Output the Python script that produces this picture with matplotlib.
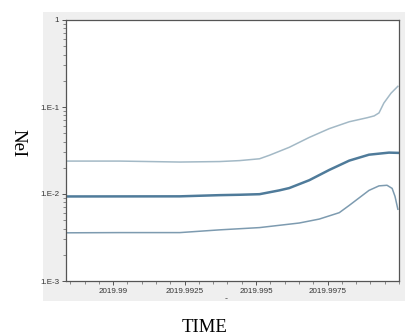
import matplotlib
matplotlib.use("Agg")
from matplotlib import pyplot as plt
from matplotlib.patches import Rectangle
from matplotlib.ticker import FixedLocator, FixedFormatter, LogLocator, MultipleLocator
import numpy as np

# effective population size through time (log scale), median with upper/lower bounds
upper_t = [2019.98839, 2019.99023, 2019.99233, 2019.99372, 2019.99442, 2019.99512,
           2019.99547, 2019.99616, 2019.99686, 2019.99756, 2019.99826, 2019.99888,
           2019.99913, 2019.99930, 2019.99947, 2019.99972, 2019.99996]
upper = [0.0239, 0.0239, 0.0233, 0.0236, 0.0242, 0.0254, 0.0279, 0.0344, 0.0447,
         0.0564, 0.0677, 0.0752, 0.079, 0.0855, 0.111, 0.144, 0.173]

median_t = [2019.98839, 2019.99233, 2019.99372, 2019.99442, 2019.99512, 2019.99581,
            2019.99616, 2019.99686, 2019.99756, 2019.99826, 2019.99895, 2019.99965,
            2019.99996]
median = [0.00937, 0.0094, 0.0097, 0.0098, 0.00995, 0.0110, 0.0117, 0.0144, 0.0189,
          0.0242, 0.0283, 0.0299, 0.0297]

lower_t = [2019.98839, 2019.99023, 2019.99233, 2019.99372, 2019.99512, 2019.99651,
           2019.99721, 2019.99791, 2019.99826, 2019.99895, 2019.99930, 2019.99958,
           2019.99976, 2019.99986, 2019.99996]
lower = [0.00358, 0.0036, 0.0036, 0.00387, 0.00411, 0.00464, 0.00515, 0.0061,
         0.0074, 0.0110, 0.0124, 0.0126, 0.0116, 0.0094, 0.00668]

xticks = [2019.99, 2019.9925, 2019.995, 2019.9975]
xtick_labels = ["2019.99", "2019.9925", "2019.995", "2019.9975"]
yticks = [1e-3, 1e-2, 1e-1, 1]
ytick_labels = ["1.E-3", "1.E-2", "1.E-1", "1"]

fig = plt.figure(figsize=(4.06, 3.36), dpi=100)
fig.patch.set_facecolor("white")

# grey panel behind the plot area
fig.patches.append(Rectangle((43 / 406, 1 - 301 / 336), 363 / 406, 289 / 336,
                             transform=fig.transFigure, facecolor="#efefef",
                             edgecolor="none", zorder=0))

ax = fig.add_axes([66 / 406, 1 - 281 / 336, 333 / 406, 261 / 336])
ax.set_zorder(2)
ax.set_facecolor("white")

ax.plot(upper_t, upper, color="#a3b9c6", lw=1.1)
ax.plot(median_t, median, color="#4f7b9a", lw=1.8)
ax.plot(lower_t, lower, color="#7d9bb0", lw=1.1)

ax.set_yscale("log")
ax.set_ylim(1e-3, 1)
ax.set_xlim(2019.98835, 2020.0)

ax.yaxis.set_major_locator(FixedLocator(yticks))
ax.yaxis.set_major_formatter(FixedFormatter(ytick_labels))
ax.yaxis.set_minor_locator(LogLocator(base=10, subs=np.arange(2, 10)))
ax.yaxis.set_minor_formatter(FixedFormatter([]))
ax.xaxis.set_major_locator(FixedLocator(xticks))
ax.xaxis.set_major_formatter(FixedFormatter(xtick_labels))
ax.xaxis.set_minor_locator(MultipleLocator(0.0005))

for s in ax.spines.values():
  s.set_color("#555555")
  s.set_linewidth(0.9)

ax.tick_params(which="major", direction="out", length=3, width=0.7,
               colors="#555555", labelsize=5.8, labelcolor="#333333", pad=2)
ax.tick_params(which="minor", direction="out", length=2, width=0.6, colors="#777777")
for lab in ax.get_xticklabels() + ax.get_yticklabels():
  lab.set_family("Liberation Sans")

fig.text(226 / 406, 1 - 299 / 336, "-", fontsize=6, color="#555555",
         ha="center", va="center")
fig.text(205 / 406, 1 - 327 / 336, "TIME", fontsize=13.5, family="Liberation Serif",
         ha="center", va="center")
fig.text(18 / 406, 1 - 143 / 336, "NeI", fontsize=13.5, family="Liberation Serif",
         rotation=270, ha="center", va="center")

fig.savefig("out.png", dpi=100)
